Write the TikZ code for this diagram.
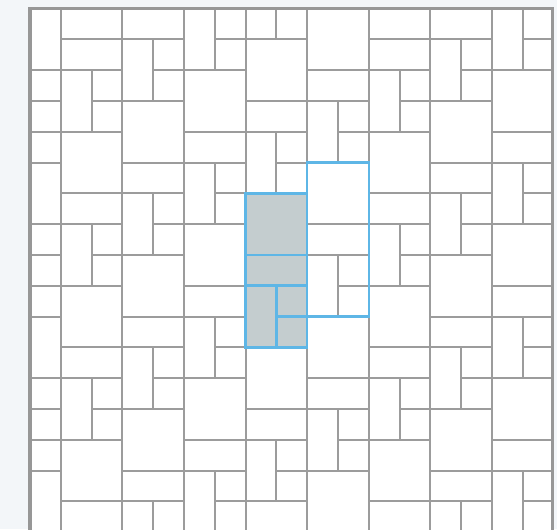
\documentclass[tikz,border=0pt]{standalone}
\usetikzlibrary{calc}
\definecolor{tilegray}{HTML}{9C9C9C}
\definecolor{framegray}{HTML}{979797}
\definecolor{hilite}{HTML}{5EB6E6}
\definecolor{shade}{HTML}{C4CDCF}
\definecolor{paper}{HTML}{F3F6F9}

\begin{document}
\begin{tikzpicture}[y=-1cm,
  tile/.style={draw=tilegray,line width=1.85pt},
  marked/.style={draw=hilite,line width=2.3pt,fill=shade},
  cellbox/.style={draw=hilite,line width=2.3pt},
  border/.style={draw=framegray,line width=2.8pt}]
\fill[paper] (-0.974,-0.276) rectangle (17.11,16.90);
\useasboundingbox (-0.974,-0.276) rectangle (17.11,16.90);
% repeating block: square, bar, post, two small squares
\begin{scope}
\clip (0,0) rectangle (16.95,17.5);
\fill[white] (0,0) rectangle (16.95,17.5);
\foreach \a in {-4,...,4}{
  \foreach \b in {-2,...,3}{
    \pgfmathsetmacro{\c}{7+2*\a}
    \pgfmathsetmacro{\r}{6-\a+5*\b}
    \draw[tile] (\c,\r) rectangle ++(2,2);
    \draw[tile] (\c,\r+2) rectangle ++(2,1);
    \draw[tile] (\c,\r+3) rectangle ++(1,2);
    \draw[tile] (\c+1,\r+3) rectangle ++(1,1);
    \draw[tile] (\c+1,\r+4) rectangle ++(1,1);
  }
}
\end{scope}
% highlighted block and its shifted copy
\draw[cellbox] (9,5) rectangle (11,10);
\draw[marked] (7,6) rectangle (9,8);
\draw[marked] (7,8) rectangle (9,9);
\draw[marked] (7,9) rectangle (8,11);
\draw[marked] (8,9) rectangle (9,10);
\draw[marked] (8,10) rectangle (9,11);
\draw[border] (0,17.5) -- (0,0) -- (16.95,0) -- (16.95,17.5);
\end{tikzpicture}
\end{document}
